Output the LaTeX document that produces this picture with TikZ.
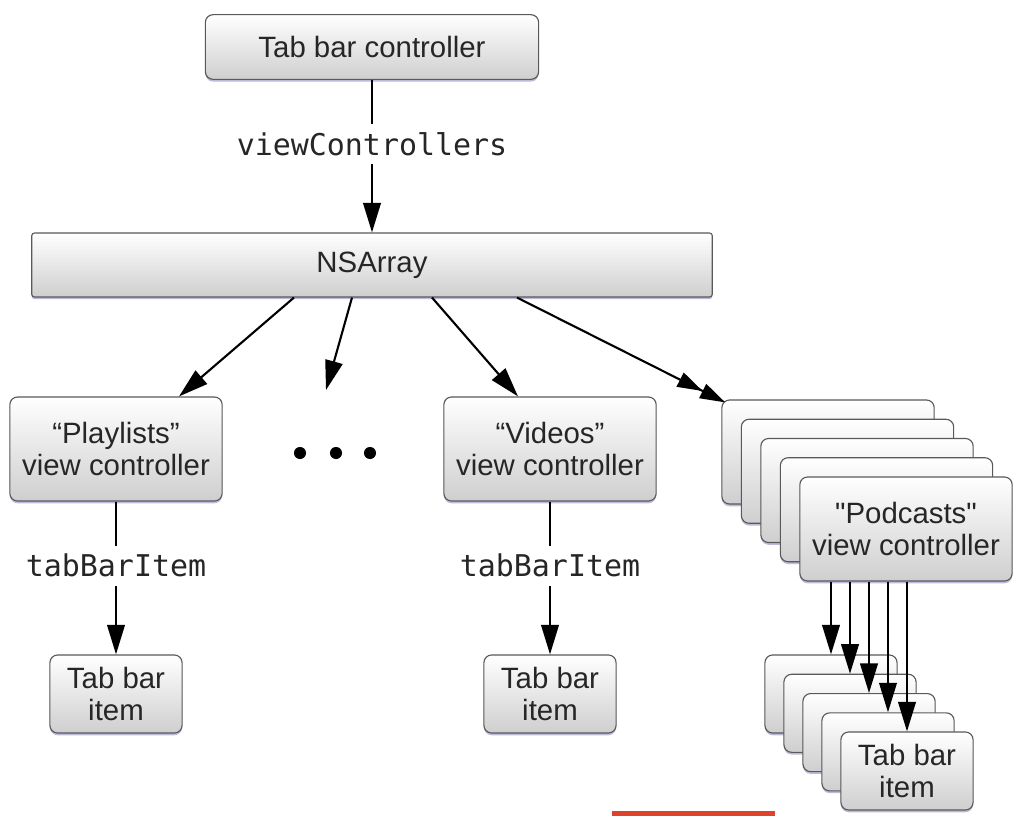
\documentclass[tikz,border=0pt]{standalone}
\usepackage{fontspec}
\setmainfont{Liberation Sans}
\setmonofont{DejaVu Sans Mono}
\usetikzlibrary{arrows.meta, shadows, calc}

\definecolor{barred}{RGB}{222,66,44}
\tikzset{
	box/.style={draw=black!65, line width=.8pt, rounded corners=5.5pt, top color=white, bottom color=black!19,
		drop shadow={shadow xshift=0pt, shadow yshift=-1.6pt, fill=blue!45!black!45, opacity=.6},
		align=center, inner sep=0pt, text=black!85, font=\fontsize{20.9}{22.3}\selectfont},
	vcbox/.style={box, minimum width=151pt, minimum height=74pt},
	itembox/.style={box, minimum width=94pt, minimum height=55.5pt},
	lbl/.style={fill=white, inner xsep=2pt, inner ysep=6pt, text=black!85, font=\ttfamily\fontsize{21.3}{24}\selectfont}
}

\begin{document}
\begin{tikzpicture}[x=.025cm, y=-.025cm, line width=1.5pt, >={Triangle[length=21pt, width=12.5pt]}]
	\useasboundingbox (0,0) rectangle (1014,816);

	\node[box, minimum width=237pt, minimum height=46pt] (tbc) at (372,47) {Tab bar controller};
	\node[box, rounded corners=2pt, minimum width=484pt, minimum height=45.5pt] (arr) at (372,265) {NSArray};

	\node[vcbox] (pl) at (116,449) {“Playlists”\\view controller};
	\node[vcbox] (vid) at (550,449) {“Videos”\\view controller};
	\foreach \k in {0,...,3}
		\node[vcbox] (pc\k) at (828+19.5*\k, 452+19.25*\k) {};
	\node[vcbox] (pc4) at (906,529) {\textquotedbl Podcasts\textquotedbl\\view controller};

	\node[itembox] (ti1) at (116,694) {Tab bar\\item};
	\node[itembox] (ti2) at (550,694) {Tab bar\\item};
	\foreach \k in {0,...,3}
		\node[itembox] (tbi\k) at (831+19*\k, 694+19.3*\k) {};
	\node[itembox] (tbi4) at (907,771) {Tab bar\\item};

	\foreach \x in {300,336,370}
		\fill (\x,453) circle (4.3pt);
	\coordinate (dotsend) at (326,390);

	\draw[->] (tbc) -- node[lbl, pos=.42] {viewControllers} (arr);
	\draw[->] ($(arr.south)+(-78,0)$) -- ($(pl.north)+(63,0)$);
	\draw[->] ($(arr.south)+(-20,0)$) -- (dotsend);
	\draw[->] ($(arr.south)+(60,0)$) -- ($(vid.north)+(-32,0)$);
	\draw[-{Triangle[length=18pt, width=11pt] Triangle[length=18pt, width=11pt]}] ($(arr.south)+(145,0)$) -- ($(pc0.north west)+(4,3)$);

	\draw[->] (pl) -- node[lbl, pos=.42] {tabBarItem} (ti1);
	\draw[->] (vid) -- node[lbl, pos=.42] {tabBarItem} (ti2);
	\foreach \k in {0,...,4}
		\draw[->] (pc4.south -| tbi\k.north) -- (tbi\k.north);

	\fill[barred] (612,811) rectangle (775,816);
\end{tikzpicture}
\end{document}
